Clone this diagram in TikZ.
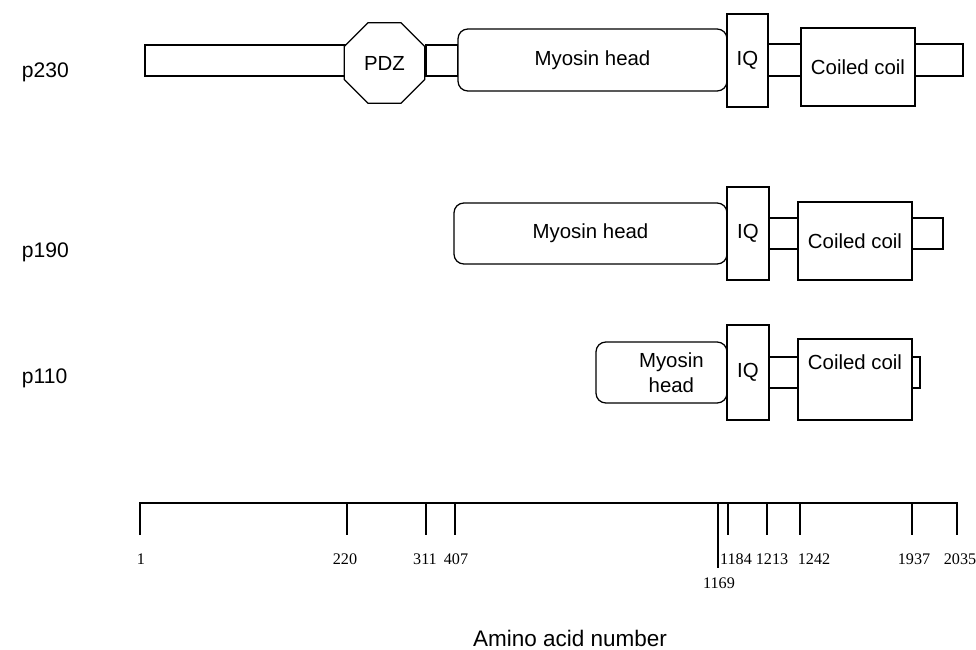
\documentclass[tikz,border=0pt]{standalone}
\usepackage{fontspec}
\setmainfont{Liberation Serif}
\setsansfont{Liberation Sans}
\usetikzlibrary{shapes.geometric, fit}

\newlength\px
\setlength\px{0.025cm}

\begin{document}
\begin{tikzpicture}[
    x=\px, y=-\px,
    dombox/.style={draw, fill=white, line width=0.9pt, inner sep=0pt, font=\sffamily\fontsize{14.5}{17.5}\selectfont},
    headbox/.style={dombox, rounded corners=7pt, align=center},
    linker/.style={draw, line width=0.9pt, inner sep=0pt},
    protein/.style={font=\sffamily\fontsize{15}{17}\selectfont, anchor=west},
    num/.style={font=\fontsize{11.5}{13}\selectfont, inner sep=0pt},
    axistick/.style={line width=1.3pt},
]
\useasboundingbox (0,0) rectangle (976,650);

% p230
\node[protein] (p230) at (17,72) {p230};
\node[linker, fit={(145,45) (345,76)}] (nterm230) {};
\node[linker, fit={(426,45) (458,76)}] (lnk230a) {};
\node[linker, fit={(768,44) (801,76)}] (lnk230b) {};
\node[linker, fit={(915,44) (963,76)}] (tail230) {};
\node[dombox, regular polygon, regular polygon sides=8, minimum size=87\px] (pdz) at (384.5,63) {PDZ};
\node[headbox, minimum width=269\px, minimum height=62\px] (head230) at (592.5,60) {Myosin head};
\node[dombox, minimum width=41\px, minimum height=93\px] (iq230) at (747.5,60.5) {IQ};
\node[dombox, minimum width=114\px, minimum height=78\px] (cc230) at (858,67) {Coiled coil};

% p190
\node[protein] (p190) at (17,252) {p190};
\node[linker, fit={(769,218) (798,249)}] (lnk190) {};
\node[linker, fit={(912,218) (943,249)}] (tail190) {};
\node[headbox, minimum width=273\px, minimum height=61\px] (head190) at (590.5,233.5) {Myosin head};
\node[dombox, minimum width=42\px, minimum height=93\px] (iq190) at (748,233.5) {IQ};
\node[dombox, minimum width=114\px, minimum height=78\px] (cc190) at (855,241) {Coiled coil};

% p110
\node[protein] (p110) at (17,378) {p110};
\node[linker, fit={(769,357) (798,388)}] (lnk110) {};
\node[linker, fit={(912,357) (920,388)}] (tail110) {};
\node[headbox, minimum width=131\px, minimum height=61\px] (head110) at (661.5,372.5) {\hspace*{14pt}Myosin\\\hspace*{14pt}head};
\node[dombox, minimum width=42\px, minimum height=95\px] (iq110) at (748,372.5) {IQ};
\node[dombox, minimum width=114\px, minimum height=81\px,
      label={[font=\sffamily\fontsize{14.5}{17.5}\selectfont, yshift=12pt]center:Coiled coil}] (cc110) at (855,379.5) {};

% axis
\draw[axistick] (140,535) -- (140,503) -- (957,503) -- (957,535);
\draw[axistick] (347,503) -- (347,535);
\draw[axistick] (426,503) -- (426,535);
\draw[axistick] (455,503) -- (455,535);
\draw[axistick] (718,503) -- (718,568);
\draw[axistick] (728,503) -- (728,535);
\draw[axistick] (767,503) -- (767,535);
\draw[axistick] (800,503) -- (800,535);
\draw[axistick] (912,503) -- (912,535);

\node[num] (n1) at (141,559) {1};
\node[num] (n220) at (345,559) {220};
\node[num] (n311) at (425,559) {311};
\node[num] (n407) at (456,559) {407};
\node[num] (n1169) at (719,583) {1169};
\node[num] (n1184) at (736,559) {1184};
\node[num] (n1213) at (772,559) {1213};
\node[num] (n1242) at (814,559) {1242};
\node[num] (n1937) at (914,559) {1937};
\node[num] (n2035) at (960,559) {2035};

\node[font=\sffamily\fontsize{16}{19}\selectfont] (title) at (570,638) {Amino acid number};

\end{tikzpicture}
\end{document}
